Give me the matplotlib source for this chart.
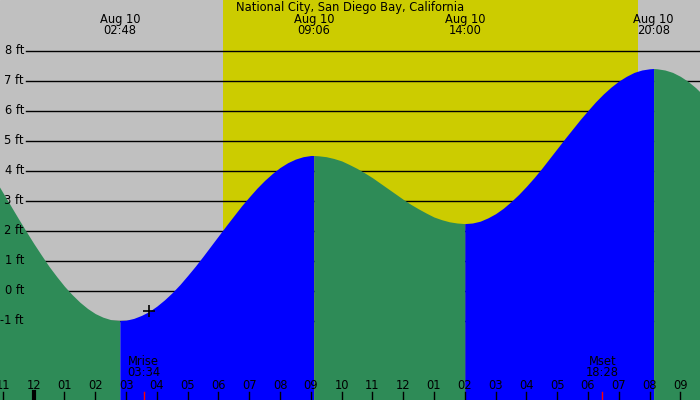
import numpy as np
import matplotlib
matplotlib.use("Agg")
import matplotlib.pyplot as plt
from matplotlib.transforms import blended_transform_factory

# tide heights (ft) read every quarter hour, hours from midnight Aug 10
quarter_hours = np.arange(-1.5, 22.01, 0.25)
heights = [4.10, 3.69,
           3.26, 2.83, 2.40, 1.98,
           1.57, 1.18, 0.80, 0.46,
           0.14, -0.14, -0.39, -0.60,
           -0.77, -0.89, -0.97, -1.00,
           -0.99, -0.93, -0.83, -0.70,
           -0.52, -0.31, -0.07, 0.20,
           0.50, 0.81, 1.14, 1.48,
           1.82, 2.16, 2.49, 2.82,
           3.12, 3.41, 3.67, 3.90,
           4.10, 4.26, 4.38, 4.46,
           4.50, 4.49, 4.46, 4.40,
           4.32, 4.20, 4.07, 3.92,
           3.76, 3.58, 3.40, 3.22,
           3.04, 2.87, 2.72, 2.58,
           2.45, 2.36, 2.29, 2.25,
           2.23, 2.25, 2.31, 2.42,
           2.56, 2.74, 2.96, 3.20,
           3.47, 3.76, 4.07, 4.40,
           4.73, 5.06, 5.38, 5.70,
           6.00, 6.29, 6.55, 6.78,
           6.98, 7.14, 7.27, 7.35,
           7.39, 7.39, 7.35, 7.27,
           7.14, 6.97, 6.76, 6.51,
           6.23]

# high / low tides
event_times = ["02:48", "09:06", "14:00", "20:08"]
event_heights = [-1.0, 4.5, 2.23, 7.4]
event_kind = ["low", "high", "low", "high"]
event_date = "Aug 10"

sunrise = "06:09"
sunset = "19:38"
moon_labels = ["Mrise", "Mset"]
moon_times = ["03:34", "18:28"]
marker_time = "03:45"
marker_height = -0.69

levels = [-1, 0, 1, 2, 3, 4, 5, 6, 7, 8]
title = "National City, San Diego Bay, California"

GRAY = "#c0c0c0"
DAY = "#cccc00"
FALL = "#2e8b57"
RISE = "#0000ff"
FS = 8.3


def hrs(s):
    h, m = s.split(":")
    return round(int(h) + int(m) / 60.0, 3)


ev_t = [hrs(s) for s in event_times]

# merge readings with the extremes
pts = dict(zip(np.round(quarter_hours, 3), heights))
for t, h in zip(ev_t, event_heights):
    pts[t] = h
tt = np.array(sorted(pts))
hh = np.array([pts[t] for t in tt])

px_per_hr = 30.79
x0 = -33.7 / px_per_hr
x1 = x0 + 700 / px_per_hr
y_top = 290.5 / 30
y_bot = -(400 - 290.5) / 30

fig = plt.figure(figsize=(7, 4), dpi=100)
ax = fig.add_axes([0, 0, 1, 1])
ax.set_xlim(x0, x1)
ax.set_ylim(y_bot, y_top)
ax.axis("off")
ax.add_patch(plt.Rectangle((0, 0), 1, 1, transform=ax.transAxes,
                           color=GRAY, zorder=0))
ax.axvspan(hrs(sunrise), hrs(sunset), color=DAY, lw=0, zorder=1)

for lv in levels:
    ax.axhline(lv, xmin=26 / 700, xmax=1, color="black", lw=1.0, zorder=2)

# coloured fill, rising = blue, falling = green
bounds = [tt[0]] + ev_t + [tt[-1]]
for i in range(len(bounds) - 1):
    a, b = bounds[i], bounds[i + 1]
    m = (tt >= a - 1e-6) & (tt <= b + 1e-6)
    if i < len(event_kind):
        col = RISE if event_kind[i] == "high" else FALL
    else:
        col = RISE if event_kind[-1] == "low" else FALL
    ax.fill_between(tt[m], hh[m], y_bot - 1, color=col, lw=0, zorder=3)

ax.plot([hrs(marker_time)], [marker_height], marker="+", ms=9,
        mew=1.2, color="black", zorder=5)

ax_y = blended_transform_factory(ax.transAxes, ax.transData)
for lv in levels:
    ax.text(24 / 700, lv, f"{lv} ft", transform=ax_y, ha="right",
            va="center", fontsize=FS, zorder=6)

x_ax = blended_transform_factory(ax.transData, ax.transAxes)
ax.text(0.5, 1 - 8 / 400, title, transform=ax.transAxes, ha="center",
        va="center", fontsize=FS, zorder=6)
for t, s in zip(ev_t, event_times):
    ax.text(t, 1 - 19 / 400, event_date, transform=x_ax, ha="center",
            va="center", fontsize=FS, zorder=6)
    ax.text(t, 1 - 31 / 400, s, transform=x_ax, ha="center",
            va="center", fontsize=FS, zorder=6)

# hour ticks along the bottom
for h in range(-1, 22):
    lab = "%02d" % (h % 12 if h % 12 else 12)
    ax.axvline(h, ymin=0, ymax=8 / 400, color="black",
               lw=3 if h == 0 else 1, zorder=6)
    ax.text(h, 1 - 385.7 / 400, lab, transform=x_ax, ha="center",
            va="center", fontsize=FS, zorder=6)

for lab, s in zip(moon_labels, moon_times):
    t = hrs(s)
    ax.axvline(t, ymin=0, ymax=8 / 400, color="red", lw=1, zorder=6)
    ax.text(t, 1 - 361.7 / 400, lab, transform=x_ax, ha="center",
            va="center", fontsize=FS, zorder=6)
    ax.text(t, 1 - 373 / 400, s, transform=x_ax, ha="center",
            va="center", fontsize=FS, zorder=6)

fig.savefig("out.png", dpi=100)
